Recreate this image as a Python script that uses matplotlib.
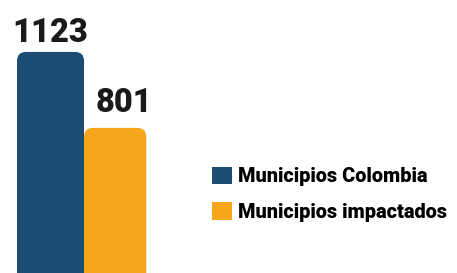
import matplotlib
matplotlib.use("Agg")
import matplotlib.pyplot as plt
from matplotlib.patches import FancyBboxPatch, Patch

labels = ["Municipios Colombia", "Municipios impactados"]
values = [1123, 801]
colors = ["#1e4d74", "#f7a51d"]

plt.rcParams['font.family'] = ['Roboto', 'DejaVu Sans']

fig = plt.figure(figsize=(4.57, 2.73), dpi=100)
ax = fig.add_axes([0, 0, 1, 1])
ax.set_xlim(-0.754, 6.067)
ax.set_ylim(186, 1343)
ax.axis("off")

bars = ax.bar([0, 0.5 + 0.465], values, width=[1.0, 0.93], color=colors)

# label offsets (points) for each bar value
offsets = [(0, 7), (6, 11.5)]

# swap plain bars for ones with rounded tops
xpx = 457 / (6.067 + 0.754)
ypx = 273 / (1343 - 186)
for b, off in zip(bars, offsets):
    b.set_visible(False)
    r = 9 / xpx
    fb = FancyBboxPatch((b.get_x(), b.get_y()), b.get_width(), b.get_height(),
                        boxstyle="round,pad=0,rounding_size=%f" % r,
                        mutation_aspect=xpx / ypx,
                        facecolor=b.get_facecolor(), edgecolor="none")
    ax.add_patch(fb)
    ax.annotate(str(b.get_height()), (b.get_x() + b.get_width() / 2, b.get_height()),
                xytext=off, textcoords="offset points",
                ha="center", va="baseline", fontsize=23.5, fontweight="heavy",
                color="#1a1a1a")

handles = [Patch(facecolor=c, edgecolor="none") for c in colors]
fig.legend(handles, labels, loc="upper left", bbox_to_anchor=(0.464, 0.39),
           frameon=False, prop={'weight': 'heavy', 'size': 14.3},
           handlelength=1.0, handleheight=1.0, handletextpad=0.32,
           labelspacing=0.8, borderpad=0, borderaxespad=0)

fig.savefig("out.png", dpi=100)
